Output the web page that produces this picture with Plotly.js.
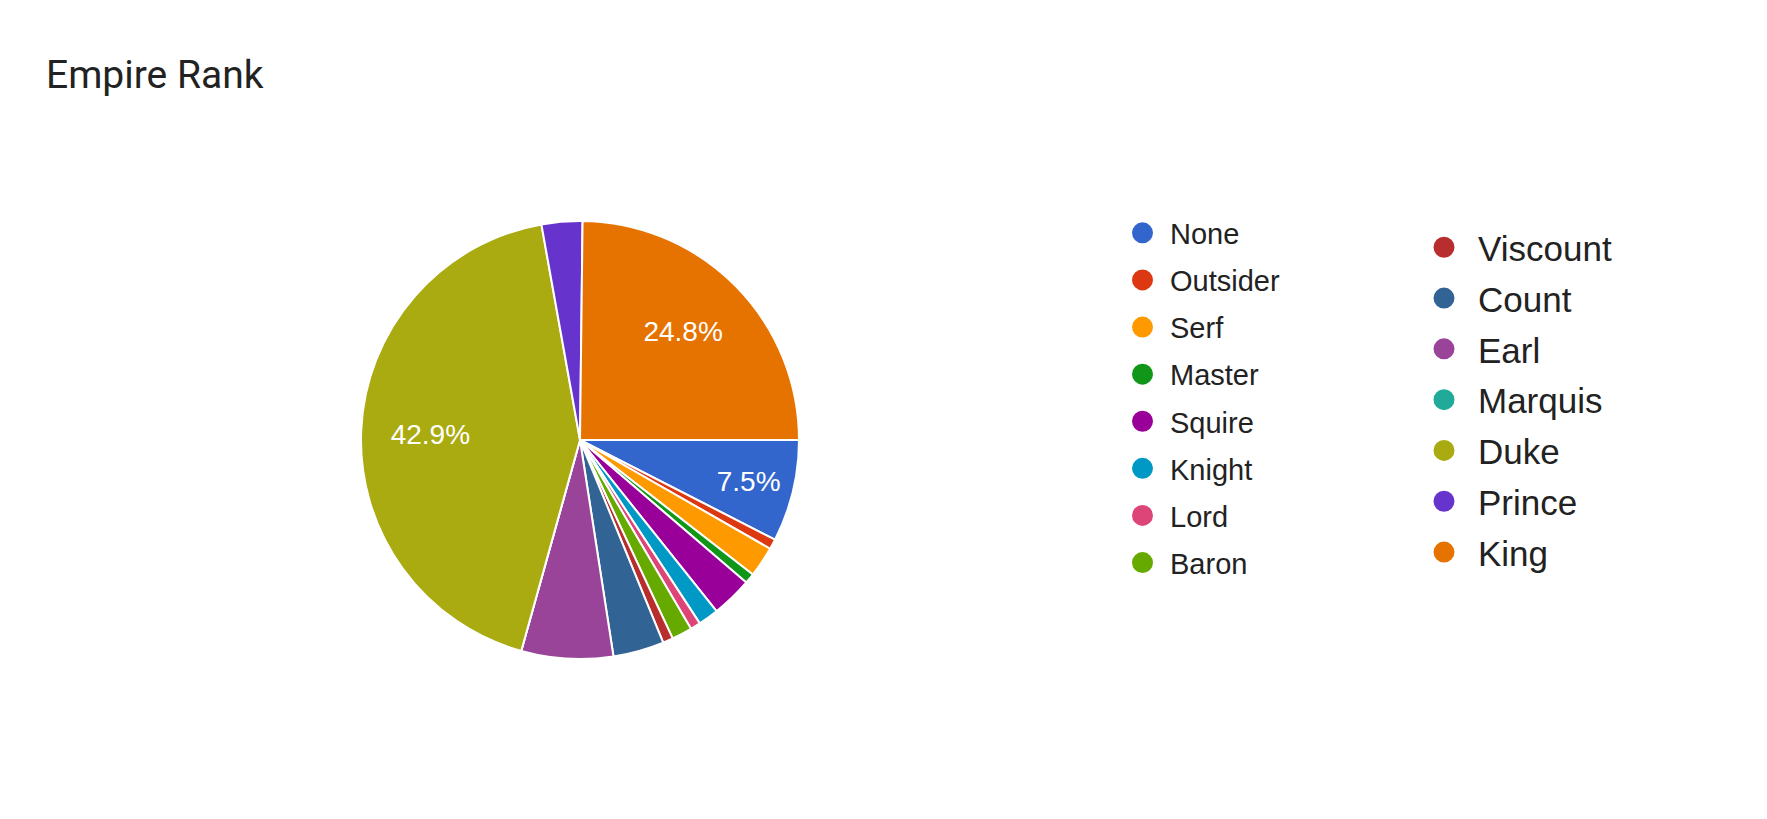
<!DOCTYPE html>
<html>
<head>
<meta charset="utf-8">
<script src="https://cdn.plot.ly/plotly-3.0.1.min.js"></script>
<style>
  html, body { margin: 0; padding: 0; background: #ffffff; }
  #chart { width: 1767px; height: 819px; }
</style>
</head>
<body>
<div id="chart"></div>
<script>
// ---- data ----
const chartTitle = 'Empire Rank';
const categories = ['None', 'Outsider', 'Serf', 'Master', 'Squire', 'Knight', 'Lord', 'Baron',
                    'Viscount', 'Count', 'Earl', 'Marquis', 'Duke', 'Prince', 'King'];
const counts = [10, 1, 3, 1, 4, 2, 1, 2, 1, 5, 9, 0, 57, 4, 33];
const sliceColors = ['#3366CC', '#DC3912', '#FF9900', '#109618', '#990099', '#0099C6', '#DD4477', '#66AA00',
                     '#B82E2E', '#316395', '#994499', '#22AA99', '#AAAA11', '#6633CC', '#E67300'];
const labelledSlices = ['None', 'Duke', 'King'];
const leftColumn = ['None', 'Outsider', 'Serf', 'Master', 'Squire', 'Knight', 'Lord', 'Baron'];

// ---- styling helpers (label nudges via non-breaking spaces) ----
const NB = '\u00A0';
const labelNudge = {
  None: { lead: 0, trail: 1, up: false },
  Duke: { lead: 0, trail: 10, up: false },
  King: { lead: 3, trail: 0, up: true }
};
function labelTemplate(c) {
  if (!labelledSlices.includes(c)) return '';
  const n = labelNudge[c] || { lead: 0, trail: 0, up: false };
  return NB.repeat(n.lead) + '%{percent:.1%}' + NB.repeat(n.trail) + (n.up ? '<br>' + NB : '');
}

// ---- chart ----
const W = 1767, H = 819;
const cx = 580, cy = 440, R = 219;

const pie = {
  type: 'pie',
  labels: categories,
  values: counts,
  marker: { colors: sliceColors, line: { color: '#ffffff', width: 2 } },
  sort: false,
  direction: 'clockwise',
  rotation: 90,
  texttemplate: categories.map(labelTemplate),
  textposition: 'inside',
  insidetextorientation: 'horizontal',
  insidetextfont: { family: 'Arial, "Liberation Sans", sans-serif', size: 28, color: '#ffffff' },
  hoverinfo: 'label+percent',
  showlegend: false,
  domain: { x: [(cx - R) / W, (cx + R) / W], y: [(H - cy - R) / H, (H - cy + R) / H] }
};

const legendTraces = categories.map((c, i) => {
  const left = leftColumn.includes(c);
  return {
    type: 'scatter',
    mode: 'markers',
    x: [null], y: [null],
    name: c,
    legend: left ? 'legend' : 'legend2',
    legendgroup: 'g' + i,
    marker: { symbol: 'circle', size: 16, color: sliceColors[i],
              line: { color: sliceColors[i], width: 5 } },
    hoverinfo: 'skip',
    showlegend: true
  };
});

const layout = {
  width: W, height: H,
  margin: { l: 0, r: 0, t: 0, b: 0 },
  paper_bgcolor: '#ffffff',
  plot_bgcolor: '#ffffff',
  title: {
    text: chartTitle,
    font: { family: 'Roboto, Arial, sans-serif', size: 39, color: '#222222' },
    x: 46 / W, xanchor: 'left', xref: 'paper',
    y: 1 - 74 / H, yanchor: 'middle', yref: 'paper'
  },
  xaxis: { visible: false },
  yaxis: { visible: false },
  legend: {
    x: 1115 / W, xanchor: 'left',
    y: 1 - 207.5 / H, yanchor: 'top',
    font: { family: 'Arial, "Liberation Sans", sans-serif', size: 29, color: '#222222' },
    itemwidth: 45,
    traceorder: 'grouped',
    tracegroupgap: 6.4,
    bgcolor: 'rgba(0,0,0,0)',
    borderwidth: 0
  },
  legend2: {
    x: 1410 / W, xanchor: 'left',
    y: 1 - 218 / H, yanchor: 'top',
    font: { family: 'Arial, "Liberation Sans", sans-serif', size: 35, color: '#222222' },
    itemwidth: 58,
    traceorder: 'grouped',
    tracegroupgap: 2.3,
    bgcolor: 'rgba(0,0,0,0)',
    borderwidth: 0
  },
  showlegend: true
};

Plotly.newPlot('chart', [pie].concat(legendTraces), layout, { displayModeBar: false, responsive: false });
</script>
</body>
</html>
